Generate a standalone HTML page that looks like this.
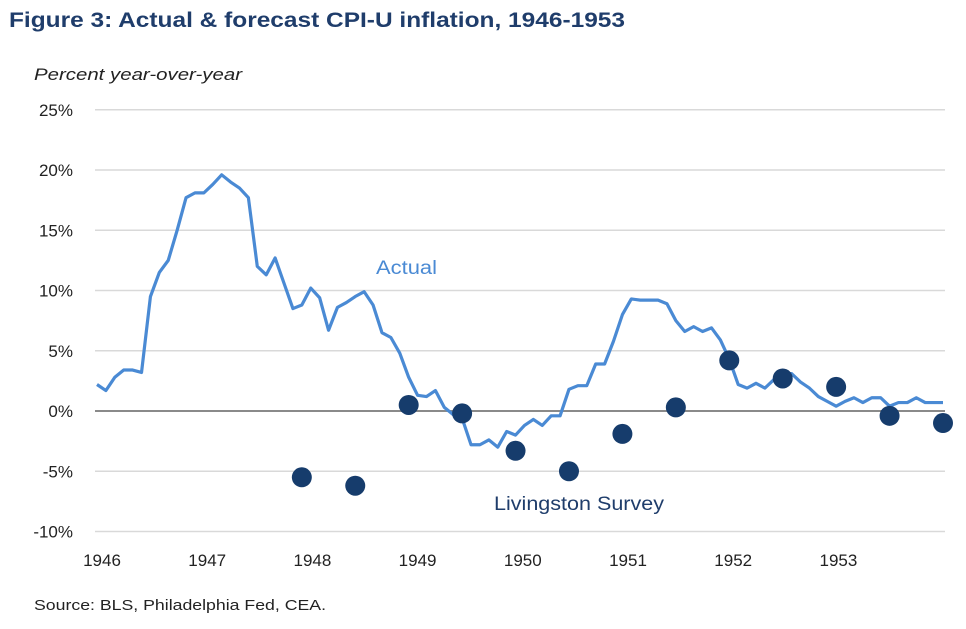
<!DOCTYPE html>
<html><head><meta charset="utf-8"><style>
html,body{margin:0;padding:0;background:#fff;}
body{width:966px;height:624px;overflow:hidden;font-family:"Liberation Sans",sans-serif;}
</style></head><body>
<svg width="966" height="624" xmlns="http://www.w3.org/2000/svg">
<text x="9" y="27" font-size="21" font-weight="bold" fill="#1f3d6b" textLength="616" lengthAdjust="spacingAndGlyphs">Figure 3: Actual &amp; forecast CPI-U inflation, 1946-1953</text>
<text x="34" y="80" font-size="17" font-style="italic" fill="#222" textLength="208" lengthAdjust="spacingAndGlyphs">Percent year-over-year</text>
<g id="grid"></g><g id="series"></g>
<text x="376" y="274" font-size="19" fill="#4a8ad4" textLength="61" lengthAdjust="spacingAndGlyphs">Actual</text>
<text x="494" y="510" font-size="19" fill="#1f3d6b" textLength="170" lengthAdjust="spacingAndGlyphs">Livingston Survey</text>
<text x="34" y="610" font-size="15" fill="#222" textLength="292" lengthAdjust="spacingAndGlyphs">Source: BLS, Philadelphia Fed, CEA.</text>
</svg>
<script>
const yTicks=[25,20,15,10,5,0,-5,-10];
const yearLabels=["1946","1947","1948","1949","1950","1951","1952","1953"];
const actual=[2.2,1.7,2.8,3.4,3.4,3.2,9.5,11.5,12.5,15,17.7,18.1,18.1,18.8,19.6,19,18.5,17.7,12,11.3,12.7,10.6,8.5,8.8,10.2,9.4,6.7,8.6,9,9.5,9.9,8.8,6.5,6.1,4.8,2.8,1.3,1.2,1.7,0.3,-0.3,-0.6,-2.8,-2.8,-2.4,-3,-1.7,-2,-1.2,-0.7,-1.2,-0.4,-0.4,1.8,2.1,2.1,3.9,3.9,5.8,8.0,9.3,9.2,9.2,9.2,8.9,7.5,6.6,7.0,6.6,6.9,5.9,4.3,2.2,1.9,2.3,1.9,2.6,3.1,3.1,2.4,1.9,1.2,0.8,0.4,0.8,1.1,0.7,1.1,1.1,0.4,0.7,0.7,1.1,0.7,0.7,0.7];
const surveyMonths=[23,29,35,41,47,53,59,65,71,77,83,89,95];
const surveyValues=[-5.5,-6.2,0.5,-0.2,-3.3,-5.0,-1.9,0.3,4.2,2.7,2.0,-0.4,-1.0];
const NS="http://www.w3.org/2000/svg";
const X=i=>97+i*(846/95);
const Y=v=>411-v*12.05;
const XL=k=>102+k*105.2;
function mk(t,a,p){const e=document.createElementNS(NS,t);for(const k in a)e.setAttribute(k,a[k]);p.appendChild(e);return e;}
const grid=document.getElementById('grid'),series=document.getElementById('series');
yTicks.forEach(v=>{
 const l=mk('line',{x1:95,x2:945,y1:Y(v),y2:Y(v),stroke:v===0?'#8a8a8a':'#d9d9d9','stroke-width':v===0?2:1.5},grid);
 
 
 const t=mk('text',{x:73,y:Y(v)+6,'text-anchor':'end','font-size':17,fill:'#222'},grid);
 t.textContent=v+'%';
 
 
});
yearLabels.forEach((y,k)=>{
 const t=mk('text',{x:XL(k),y:566,'text-anchor':'middle','font-size':17,fill:'#222'},grid);
 t.textContent=y;
 
 
});
const p=mk('polyline',{points:actual.map((v,i)=>X(i)+','+Y(v)).join(' '),fill:'none',stroke:'#4a8ad4','stroke-width':3.2,'stroke-linejoin':'round'},series);


surveyValues.forEach((v,k)=>{
 const c=mk('circle',{cx:X(surveyMonths[k]),cy:Y(v),r:10,fill:'#163c6c'},series);
 
 
});
</script>
</body></html>
